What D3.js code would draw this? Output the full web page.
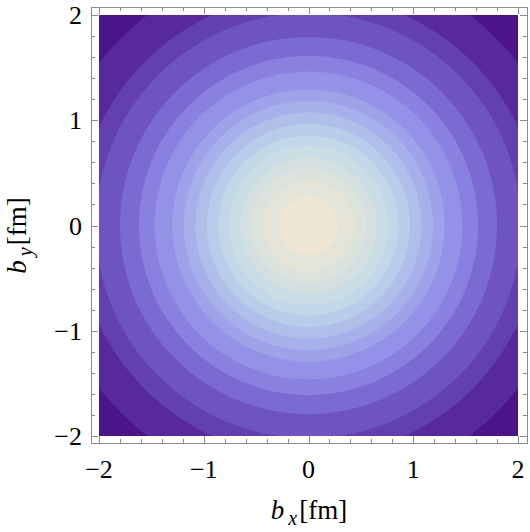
<!DOCTYPE html>
<html>
<head>
<meta charset="utf-8">
<script src="https://cdn.jsdelivr.net/npm/d3@7"></script>
<style>
  body { margin: 0; background: #fff; }
  text { font-family: "Liberation Serif", "DejaVu Serif", serif; fill: #000; }
</style>
</head>
<body>
<svg id="chart"></svg>
<script>
// contour boundaries (radius in fm), inner to outer
const contourRadii = [0.28, 0.44, 0.55, 0.65, 0.76, 0.86, 0.97, 1.08, 1.19, 1.30, 1.47, 1.62, 1.80, 2.03, 2.21, 2.53];
// fill of each band, center first, corner last
const bandColors = ['#efe6d6', '#e5e4d9', '#dce2dc', '#d4e0e0', '#cbdde4', '#c2d7e7', '#b9cce9', '#b0bfea',
  '#a7b0ea', '#9ea2e9', '#9492e6', '#8980df', '#7b6ad1', '#6e54c1', '#6340b0', '#58289e', '#4b1589'];
const majorTicks = [-2, -1, 0, 1, 2];
const tickLabels = ['\u22122', '\u22121', '0', '1', '2'];
const minorTicks = d3.range(-20, 21, 2).map(d => d / 10).filter(d => !majorTicks.includes(d));

const width = 530;
const height = 532;
const frame = { left: 91, right: 527, top: 7, bottom: 443 };

const svg = d3.select('#chart')
  .attr('width', width)
  .attr('height', height);

const x = d3.scaleLinear().domain([-2, 2]).range([99, 518]);
const y = d3.scaleLinear().domain([-2, 2]).range([436, 15]);

svg.append('clipPath')
  .attr('id', 'plot-clip')
  .append('rect')
  .attr('x', x(-2))
  .attr('y', y(2))
  .attr('width', x(2) - x(-2))
  .attr('height', y(-2) - y(2));

const plot = svg.append('g').attr('clip-path', 'url(#plot-clip)');

// outermost band fills the whole square, then circles from big to small
plot.append('rect')
  .attr('x', x(-2))
  .attr('y', y(2))
  .attr('width', x(2) - x(-2))
  .attr('height', y(-2) - y(2))
  .attr('fill', bandColors[bandColors.length - 1]);

const rings = contourRadii.map((r, i) => ({ r, color: bandColors[i] })).reverse();

plot.selectAll('circle')
  .data(rings)
  .enter()
  .append('circle')
  .attr('cx', x(0))
  .attr('cy', y(0))
  .attr('r', d => x(d.r) - x(0))
  .attr('fill', d => d.color);

// frame
const frameColor = '#8c8c8c';
svg.append('rect')
  .attr('x', frame.left + 0.5)
  .attr('y', frame.top + 0.5)
  .attr('width', frame.right - frame.left)
  .attr('height', frame.bottom - frame.top)
  .attr('fill', 'none')
  .attr('stroke', frameColor)
  .attr('stroke-width', 1);

const drawTicks = (values, len) => {
  const g = svg.append('g').attr('stroke', frameColor).attr('stroke-width', 1);
  values.forEach(v => {
    const px = Math.round(x(v)) + 0.5;
    const py = Math.round(y(v)) + 0.5;
    g.append('line').attr('x1', px).attr('x2', px).attr('y1', frame.bottom).attr('y2', frame.bottom - len);
    g.append('line').attr('x1', px).attr('x2', px).attr('y1', frame.top).attr('y2', frame.top + len);
    g.append('line').attr('y1', py).attr('y2', py).attr('x1', frame.left).attr('x2', frame.left + len);
    g.append('line').attr('y1', py).attr('y2', py).attr('x1', frame.right).attr('x2', frame.right - len);
  });
};
drawTicks(majorTicks, 7);
drawTicks(minorTicks, 4);

// tick labels
svg.append('g')
  .selectAll('text')
  .data(majorTicks)
  .enter()
  .append('text')
  .attr('x', d => x(d))
  .attr('y', 478)
  .attr('text-anchor', 'middle')
  .attr('font-size', 26)
  .text((d, i) => tickLabels[i]);

svg.append('g')
  .selectAll('text')
  .data(majorTicks)
  .enter()
  .append('text')
  .attr('x', 82)
  .attr('y', d => y(d))
  .attr('dy', '0.35em')
  .attr('text-anchor', 'end')
  .attr('font-size', 26)
  .text((d, i) => tickLabels[i]);

// axis labels
const addLabel = (node, sub) => {
  node.append('tspan').attr('font-style', 'italic').text('b');
  node.append('tspan').attr('font-style', 'italic').attr('font-size', 20).attr('dx', 4).attr('dy', 6).text(sub);
  node.append('tspan').attr('dy', -6).attr('dx', 2).text('[fm]');
};

const xLabel = svg.append('text')
  .attr('x', 309)
  .attr('y', 519)
  .attr('text-anchor', 'middle')
  .attr('font-size', 27);
addLabel(xLabel, 'x');

const yLabel = svg.append('text')
  .attr('transform', `translate(26,${y(0) + 10}) rotate(-90)`)
  .attr('text-anchor', 'middle')
  .attr('font-size', 27);
addLabel(yLabel, 'y');
</script>
</body>
</html>
